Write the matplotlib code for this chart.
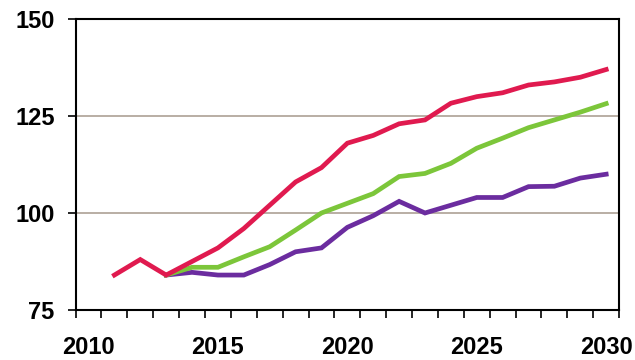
import matplotlib.pyplot as plt
import numpy as np

# Jahre / Kategorien
years = list(range(2010, 2031))

red_years = list(range(2011, 2031))
red_vals = [84, 88, 84, 87.5, 91, 96, 102, 108, 111.7, 118, 120, 123, 124, 128.3,
            130, 131, 133, 133.8, 135, 137]

other_years = list(range(2013, 2031))
green_vals = [84, 86, 86, 88.7, 91.3, 95.6, 100, 102.5, 105, 109.4, 110.2, 112.8,
              116.7, 119.3, 122, 124, 126, 128.2]
purple_vals = [84, 84.7, 84, 84, 86.7, 90, 91, 96.3, 99.3, 103, 100, 102,
               104, 104, 106.8, 106.9, 109, 110]

y_ticks = [75, 100, 125, 150]
x_labels = [2010, 2015, 2020, 2025, 2030]

plt.rcParams['font.family'] = ['Liberation Sans', 'DejaVu Sans']

fig = plt.figure(figsize=(6.35, 3.6), dpi=100)
ax = fig.add_axes([0.119, 0.139, 0.856, 0.808])

pos = {y: i for i, y in enumerate(years)}
ax.plot([pos[y] for y in other_years], purple_vals, color='#6b2c9f', lw=3.4, solid_joinstyle='miter', zorder=3)
ax.plot([pos[y] for y in other_years], green_vals, color='#7cc63a', lw=3.4, solid_joinstyle='miter', zorder=4)
ax.plot([pos[y] for y in red_years], red_vals, color='#e01a4f', lw=3.4, solid_joinstyle='miter', zorder=5)

for v in [100, 125]:
    ax.axhline(v, color='#ada195', lw=1.2, zorder=1)

ax.set_ylim(75, 150)
ax.set_xlim(-0.5, len(years) - 0.5)
ax.set_yticks(y_ticks)
ax.set_yticklabels([str(v) for v in y_ticks], fontsize=17, fontweight='bold')

# ticks between categories, labels at category centres
ax.set_xticks(np.arange(-0.5, len(years)), minor=False)
ax.set_xticklabels([])
ax.set_xticks([pos[y] for y in x_labels], minor=True)
ax.set_xticklabels([str(y) for y in x_labels], minor=True, fontsize=17, fontweight='bold')
ax.tick_params(axis='x', which='minor', length=0, pad=19)
ax.tick_params(axis='x', which='major', length=6, width=1.2, direction='out')
ax.tick_params(axis='y', length=6, width=1.2, direction='out', pad=9)

for s in ax.spines.values():
    s.set_linewidth(1.5)
    s.set_color('black')

fig.savefig('out.png', dpi=100)
